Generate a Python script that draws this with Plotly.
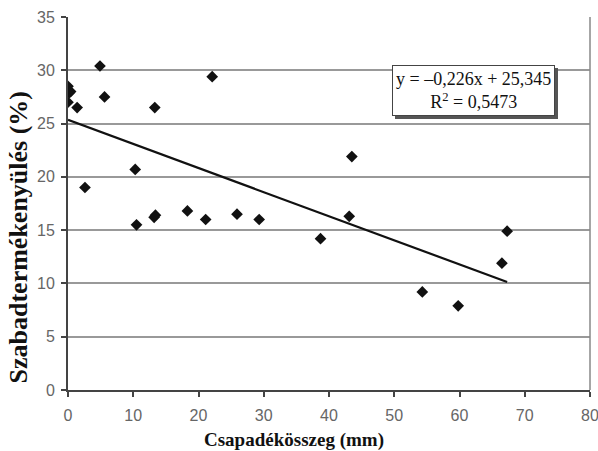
import numpy as np
import plotly.graph_objects as go

# Precipitation total (mm) vs. free fertility rate (%)
precip = [0.0, 0.4, 0.2, 0.0, 1.4, 2.6, 4.9, 5.6, 10.3, 13.3, 22.1,
          10.5, 13.2, 13.4, 18.3, 21.1, 25.9, 29.3, 38.7, 43.1, 43.5,
          54.3, 59.8, 66.5, 67.3]
fertility = [28.5, 28.0, 27.9, 27.0, 26.5, 19.0, 30.4, 27.5, 20.7, 26.5, 29.4,
             15.5, 16.2, 16.4, 16.8, 16.0, 16.5, 16.0, 14.2, 16.3, 21.9,
             9.2, 7.9, 11.9, 14.9]

# Linear fit coefficients
slope = -0.226
intercept = 25.345
r_squared = 0.5473

x_ticks = [0, 10, 20, 30, 40, 50, 60, 70, 80]
y_ticks = [0, 5, 10, 15, 20, 25, 30, 35]

fit_x = np.array([min(precip), max(precip)])
fit_y = slope * fit_x + intercept

fig = go.Figure()
fig.add_trace(go.Scatter(
    x=fit_x, y=fit_y, mode="lines",
    line=dict(color="#111111", width=2.2),
    hoverinfo="skip", showlegend=False,
))
fig.add_trace(go.Scatter(
    x=precip, y=fertility, mode="markers",
    marker=dict(symbol="diamond", size=9, color="#111111"),
    showlegend=False,
))

eq_text = ("y = \u20130,226x + 25,345<br>R<sup>2</sup> = 0,5473")
serif = "Liberation Serif, Times New Roman, serif"

# drop shadow behind the equation box
fig.add_annotation(
    x=62.2, y=28.1, xref="x", yref="y", text=eq_text, showarrow=False,
    font=dict(family=serif, size=18, color="#555555"),
    bgcolor="#555555", bordercolor="#555555", borderwidth=1, borderpad=3,
    xshift=3, yshift=-3, align="center",
)
fig.add_annotation(
    x=62.2, y=28.1, xref="x", yref="y", text=eq_text, showarrow=False,
    font=dict(family=serif, size=18, color="#111111"),
    bgcolor="white", bordercolor="#444444", borderwidth=1, borderpad=3,
    align="center",
)

# axis titles
fig.add_annotation(
    x=0.432, y=-0.135, xref="paper", yref="paper", yanchor="middle",
    text="<b>Csapadékösszeg (mm)</b>", showarrow=False,
    font=dict(family=serif, size=19, color="#111111"),
)
fig.add_annotation(
    x=-0.095, y=0.41, xref="paper", yref="paper", xanchor="center", yanchor="middle",
    text="<b>Szabadtermékenyülés (%)</b>", showarrow=False, textangle=-90,
    font=dict(family=serif, size=26, color="#111111"),
)

# right-hand frame line
fig.add_shape(type="line", xref="paper", yref="paper", x0=1, x1=1, y0=0, y1=1,
              line=dict(color="#888888", width=1.5))

tick_font = dict(family="Liberation Sans Narrow, Arial Narrow, Liberation Sans, sans-serif",
                 size=16, color="#666666")

fig.update_xaxes(
    range=[0, 80], tickvals=x_ticks, ticktext=[str(v) for v in x_ticks],
    showgrid=False, zeroline=False,
    showline=True, linecolor="#444444", linewidth=2,
    ticks="outside", ticklen=5, tickwidth=1.5, tickcolor="#444444",
    tickfont=tick_font, ticklabelstandoff=5, ticklabeloverflow="allow",
)
fig.update_yaxes(
    range=[0, 35], tickvals=y_ticks, ticktext=[str(v) for v in y_ticks],
    showgrid=True, gridcolor="#999999", gridwidth=1.6, zeroline=False,
    showline=True, linecolor="#444444", linewidth=2,
    ticks="outside", ticklen=5, tickwidth=1.5, tickcolor="#444444",
    tickfont=tick_font, ticklabelstandoff=3, ticklabeloverflow="allow",
)

fig.update_layout(
    width=598, height=451,
    margin=dict(l=68, r=8, t=17, b=61, autoexpand=False),
    paper_bgcolor="white", plot_bgcolor="white",
)

fig.write_html("out.html")
